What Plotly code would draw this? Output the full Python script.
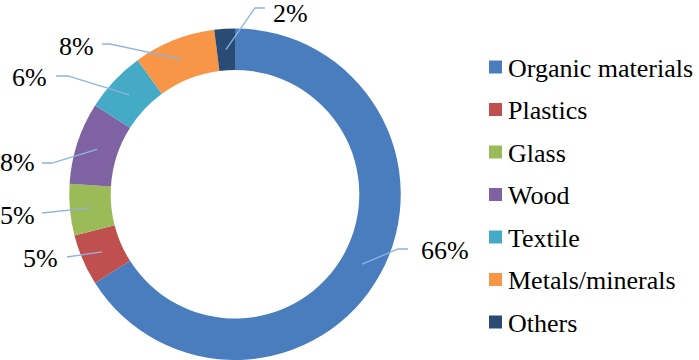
import math
import plotly.graph_objects as go

# ---- data ----
categories = ["Organic materials", "Plastics", "Glass", "Wood", "Textile", "Metals/minerals", "Others"]
values = [66, 5, 5, 8, 6, 8, 2]
colors = ["#4a7dbd", "#c0504d", "#9bbb59", "#7f62a1", "#45aac6", "#f79646", "#2a4b74"]

# ---- layout constants (pixels) ----
W, H = 699, 360
CX, CY, R_OUT = 235, 194.25, 165.75
HOLE = 0.75
R_MID = R_OUT * (1 + HOLE) / 2

# label placement (style): elbow point, line end, text anchor side
label_elbow = [(398, 249), None, None, (52, 163), (68, 76), (110, 44), (255, 8)]
label_end = [(408, 249), (67, 257), (42, 213), (42, 163), (56, 76), (102, 44), (265, 8)]
label_text_pos = [(420, 250, "left"), (59, 258, "right"), (36, 215, "right"), (36, 163, "right"),
                  (48, 77, "right"), (95, 46, "right"), (272, 14, "left")]

LINE_COLOR = "#8db4e2"
FONT = "Liberation Serif"


def px(x):
    return x / W


def py(y):
    return 1 - y / H


fig = go.Figure(go.Pie(
    labels=categories,
    values=values,
    hole=HOLE,
    sort=False,
    direction="clockwise",
    rotation=0,
    marker=dict(colors=colors, line=dict(width=0)),
    textinfo="none",
    showlegend=False,
    domain=dict(x=[(CX - R_OUT) / W, (CX + R_OUT) / W], y=[0, 2 * R_OUT / H]),
))

shapes = []
annotations = []
total = sum(values)
cum = 0
for i, v in enumerate(values):
    mid = (cum + v / 2) / total
    cum += v
    ang = 2 * math.pi * mid
    ax = CX + R_MID * math.sin(ang)
    ay = CY - R_MID * math.cos(ang)
    pts = [(ax, ay)]
    if label_elbow[i] is not None:
        pts.append(label_elbow[i])
    pts.append(label_end[i])
    path = "M " + " L ".join(f"{px(x):.5f},{py(y):.5f}" for x, y in pts)
    shapes.append(dict(type="path", xref="paper", yref="paper", path=path,
                       line=dict(color=LINE_COLOR, width=1.3)))
    tx, ty, side = label_text_pos[i]
    annotations.append(dict(
        x=px(tx), y=py(ty), xref="paper", yref="paper",
        text=f"{round(100 * v / total)}%", showarrow=False,
        xanchor=side, yanchor="middle",
        font=dict(family=FONT, size=26, color="black"), borderpad=0,
    ))

# legend (manual, to match spacing)
LEG_X0, LEG_Y0, LEG_STEP, SQ = 489, 67, 42.5, 13
for i, (cat, col) in enumerate(zip(categories, colors)):
    yc = LEG_Y0 + i * LEG_STEP
    shapes.append(dict(type="rect", xref="paper", yref="paper",
                       x0=px(LEG_X0), x1=px(LEG_X0 + SQ),
                       y0=py(yc + SQ / 2), y1=py(yc - SQ / 2),
                       fillcolor=col, line=dict(width=0)))
    annotations.append(dict(
        x=px(LEG_X0 + SQ + 5), y=py(yc + 1), xref="paper", yref="paper",
        text=cat, showarrow=False, xanchor="left", yanchor="middle",
        font=dict(family=FONT, size=26, color="black"), borderpad=0,
    ))

fig.update_layout(
    width=W, height=H,
    margin=dict(l=0, r=0, t=0, b=0),
    paper_bgcolor="white",
    plot_bgcolor="white",
    font=dict(family=FONT, color="black"),
    shapes=shapes,
    annotations=annotations,
)

fig.write_html("out.html", config={"displayModeBar": False},
               post_script="document.body.style.margin='0';document.body.style.padding='0';")
